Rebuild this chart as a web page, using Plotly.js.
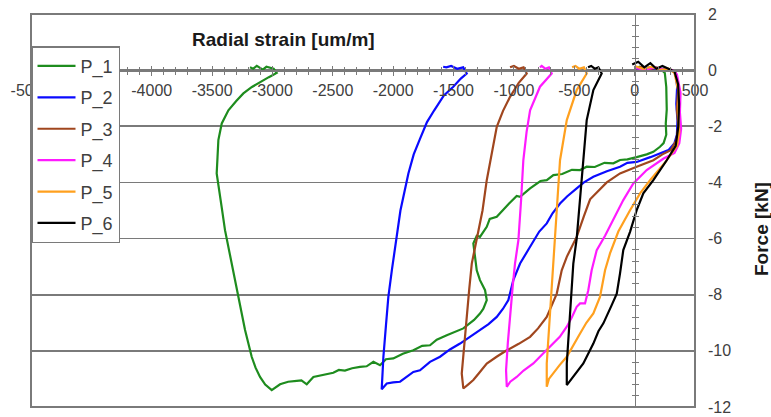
<!DOCTYPE html>
<html>
<head>
<meta charset="utf-8">
<script src="https://cdn.plot.ly/plotly-3.0.1.min.js"></script>
<style>html,body{margin:0;padding:0;background:#fff;}#chart{width:771px;height:417px;}</style>
</head>
<body>
<div id="chart"></div>
<script>
// ---- data ----
const seriesNames = ["P_1", "P_2", "P_3", "P_4", "P_5", "P_6"];

const p1x = [0, 40, 80, 120, 160, 200, 230, 250, 262, 266, 258, 262, 240, 210, 155, 100, 17, -60, -121, -176, -250, -330, -397, -452, -520, -600, -673, -728, -780, -866, -949, -977, -1040, -1088, -1142, -1200, -1225, -1281, -1308, -1336, -1322, -1308, -1281, -1239, -1225, -1253, -1281, -1330, -1419, -1480, -1556, -1639, -1695, -1760, -1833, -1920, -1999, -2060, -2109, -2164, -2220, -2275, -2340, -2400, -2450, -2496, -2580, -2661, -2716, -2760, -2799, -2870, -2937, -3006, -3060, -3103, -3140, -3172, -3227, -3282, -3337, -3393, -3420, -3462, -3455, -3448, -3420, -3365, -3300, -3241, -3170, -3103, -3030, -2965, -2990, -3050, -3080, -3130, -3160, -3186];
const p1y = [0.05, 0.12, 0.02, 0.08, 0.0, 0.05, -0.02, -0.1, -0.6, -1.4, -1.9, -2.3, -2.6, -2.73, -2.91, -3.0, -3.1, -3.18, -3.2, -3.32, -3.3, -3.45, -3.44, -3.56, -3.55, -3.7, -3.74, -3.92, -3.95, -4.21, -4.51, -4.48, -4.75, -4.99, -5.22, -5.3, -5.58, -5.94, -5.9, -6.17, -6.65, -7.13, -7.48, -7.84, -8.19, -8.5, -8.67, -8.9, -9.2, -9.3, -9.44, -9.6, -9.8, -9.82, -9.98, -10.1, -10.27, -10.3, -10.51, -10.39, -10.55, -10.57, -10.62, -10.7, -10.68, -10.78, -10.85, -10.93, -11.19, -11.05, -11.07, -11.1, -11.19, -11.4, -11.2, -10.93, -10.6, -10.21, -9.26, -8.08, -6.89, -5.7, -4.9, -3.68, -3.1, -2.49, -1.9, -1.43, -1.1, -0.83, -0.6, -0.42, -0.25, -0.1, 0.05, 0.12, 0.02, 0.15, 0.05, 0.1];

const p2x = [0, 60, 120, 180, 240, 300, 340, 352, 345, 355, 350, 330, 280, 210, 130, 17, -60, -121, -230, -342, -420, -480, -560, -618, -680, -728, -790, -866, -949, -1005, -1046, -1090, -1142, -1210, -1281, -1360, -1446, -1530, -1612, -1695, -1778, -1833, -1900, -1943, -2000, -2053, -2095, -2081, -2060, -2040, -2010, -1985, -1940, -1874, -1830, -1778, -1720, -1660, -1580, -1502, -1440, -1391, -1420, -1470, -1520, -1560, -1586];
const p2y = [0.1, 0.02, 0.1, 0.0, 0.05, 0.0, -0.1, -0.6, -1.2, -1.8, -2.3, -2.6, -2.85, -2.97, -3.1, -3.27, -3.3, -3.44, -3.6, -3.8, -4.0, -4.21, -4.5, -4.75, -5.1, -5.46, -5.75, -6.29, -6.89, -7.48, -8.19, -8.5, -8.79, -9.05, -9.26, -9.5, -9.74, -9.95, -10.21, -10.39, -10.69, -10.75, -10.95, -11.1, -11.12, -11.16, -11.37, -10.21, -9.1, -8.08, -7.1, -6.29, -5.0, -3.68, -3.0, -2.45, -1.85, -1.43, -0.9, -0.59, -0.3, -0.12, 0.1, 0.05, 0.15, 0.1, 0.12];

const p3x = [0, 60, 120, 180, 240, 300, 340, 360, 350, 362, 345, 300, 230, 155, 17, -121, -231, -300, -369, -420, -480, -562, -604, -645, -690, -728, -800, -866, -960, -1059, -1140, -1225, -1290, -1336, -1380, -1419, -1432, -1410, -1391, -1370, -1349, -1308, -1260, -1225, -1180, -1142, -1090, -1032, -960, -894, -920, -960, -1000, -1032];
const p3y = [0.05, 0.12, 0.02, 0.1, 0.0, 0.02, -0.1, -0.7, -1.4, -2.0, -2.5, -2.85, -3.0, -3.21, -3.44, -3.68, -4.0, -4.3, -4.6, -5.2, -5.94, -6.65, -7.13, -7.96, -8.4, -8.79, -9.2, -9.5, -9.75, -9.98, -10.2, -10.45, -10.8, -11.04, -11.2, -11.34, -10.81, -9.7, -8.67, -7.8, -6.89, -6.06, -5.0, -3.92, -2.9, -2.02, -1.45, -0.95, -0.45, -0.12, 0.1, 0.05, 0.15, 0.1];

const p4x = [0, 80, 160, 240, 310, 350, 380, 375, 385, 370, 330, 240, 100, -11, -94, -176, -245, -314, -356, -384, -411, -452, -480, -520, -562, -620, -673, -728, -760, -839, -920, -977, -1030, -1059, -1065, -1050, -1032, -1010, -991, -963, -940, -922, -895, -866, -784, -687, -710, -740, -770, -784];
const p4y = [0.1, 0.0, 0.1, 0.02, 0.0, -0.15, -0.8, -1.5, -2.1, -2.6, -2.95, -3.15, -3.56, -4.04, -4.63, -5.34, -5.9, -6.41, -7.13, -7.84, -8.31, -8.31, -8.43, -8.8, -9.14, -9.5, -9.74, -9.98, -10.1, -10.45, -10.7, -10.93, -11.1, -11.28, -10.69, -9.7, -8.67, -7.7, -6.89, -6.06, -4.6, -3.21, -2.2, -1.43, -0.59, -0.12, 0.1, 0.05, 0.15, 0.1];

const p5x = [0, 70, 140, 210, 280, 330, 365, 360, 370, 350, 250, 128, 45, -38, -135, -204, -245, -287, -342, -400, -452, -510, -562, -620, -673, -710, -728, -728, -701, -673, -659, -630, -618, -562, -480, -397, -420, -460, -490, -518];
const p5y = [0.15, 0.05, 0.12, 0.0, 0.05, -0.1, -0.8, -1.6, -2.2, -2.7, -3.3, -3.92, -4.39, -4.99, -5.75, -6.53, -7.13, -8.08, -8.67, -9.0, -9.38, -9.8, -10.21, -10.5, -10.81, -11.0, -11.28, -10.45, -8.67, -6.89, -5.9, -4.0, -3.21, -1.78, -0.71, -0.12, 0.1, 0.05, 0.15, 0.1];

const p6x = [-20, 30, 80, 130, 180, 230, 280, 330, 360, 368, 362, 340, 266, 155, 72, 17, -38, -94, -121, -148, -190, -259, -300, -342, -425, -480, -535, -562, -562, -535, -508, -480, -425, -397, -342, -273, -300, -330, -360, -386];
const p6y = [0.2, 0.3, 0.1, 0.25, 0.05, 0.15, 0.05, -0.05, -0.5, -1.2, -2.0, -2.7, -3.21, -3.92, -4.39, -4.99, -5.76, -6.41, -7.24, -7.96, -8.37, -9.02, -9.3, -9.74, -10.45, -10.75, -11.04, -11.22, -10.45, -8.67, -6.89, -6.0, -3.21, -1.78, -0.71, -0.12, 0.1, 0.05, 0.15, 0.1];

const seriesX = [p1x, p2x, p3x, p4x, p5x, p6x];
const seriesY = [p1y, p2y, p3y, p4y, p5y, p6y];
const seriesColors = ["#1e8c1e", "#0a0aff", "#a0461e", "#ff1aff", "#ffa01e", "#000000"];

const xTickVals = [-5000, -4500, -4000, -3500, -3000, -2500, -2000, -1500, -1000, -500, 0, 500];
const xTickText = ["-5000", "", "-4000", "-3500", "-3000", "-2500", "-2000", "-1500", "-1000", "-500", "0", "500"];
const yTickVals = [2, 0, -2, -4, -6, -8, -10, -12];

// ---- chart ----
const FONT = "Arial, 'Liberation Sans', sans-serif";
const gray = "#7a7a7a";
const traces = seriesNames.map((n, i) => ({
  type: "scatter", mode: "lines", name: n, legendgroup: n,
  x: seriesX[i], y: seriesY[i],
  line: {color: seriesColors[i], width: 2.2},
  xaxis: "x", yaxis: "y"
}));
// empty helper traces so that the overlay axes are drawn (no marks)
traces.push({type: "scatter", mode: "lines", x: [], y: [], xaxis: "x", yaxis: "y2", showlegend: false, hoverinfo: "skip"});
traces.push({type: "scatter", mode: "lines", x: [], y: [], xaxis: "x", yaxis: "y3", showlegend: false, hoverinfo: "skip"});
traces.push({type: "scatter", mode: "lines", x: [], y: [], xaxis: "x2", yaxis: "y", showlegend: false, hoverinfo: "skip"});

const xPos = 12 / 14;       // paper position of y = 0
const yPos = 5000 / 5500;   // paper position of x = 0

const layout = {
  width: 771, height: 417,
  margin: {l: 31, r: 76, t: 14, b: 10, pad: 0},
  paper_bgcolor: "#ffffff", plot_bgcolor: "#ffffff",
  font: {family: FONT, color: "#404040"},
  showlegend: true,
  legend: {x: 0, xanchor: "left", y: 0.918, yanchor: "top", bgcolor: "#ffffff",
           bordercolor: gray, borderwidth: 1.5, font: {size: 18, color: "#404040", family: FONT},
           tracegroupgap: 5, itemwidth: 38, entrywidth: 90},
  xaxis: {range: [-5000, 500], anchor: "free", position: xPos, showline: true, linecolor: gray, linewidth: 1.5,
          tickmode: "array", tickvals: xTickVals, ticktext: xTickText,
          ticks: "outside", ticklen: 4, tickcolor: gray, tickwidth: 1,
          minor: {dtick: 100, tick0: 0, ticks: "outside", ticklen: 3, tickcolor: gray, showgrid: false},
          showgrid: false, zeroline: false, tickfont: {size: 16, color: "#404040", family: FONT},
          ticklabelstandoff: 1},
  xaxis2: {range: [-5000, 500], overlaying: "x", anchor: "free", position: xPos, showline: false,
           dtick: 500, tick0: 0, ticks: "inside", ticklen: 4, tickcolor: gray,
           minor: {dtick: 100, tick0: 0, ticks: "inside", ticklen: 3, tickcolor: gray, showgrid: false},
           showticklabels: false, showgrid: false, zeroline: false},
  yaxis: {range: [-12, 2], anchor: "free", position: yPos, showline: true, linecolor: gray, linewidth: 1.5,
          dtick: 2, tick0: 0, ticks: "outside", ticklen: 4, tickcolor: gray,
          minor: {dtick: 0.4, tick0: 0, ticks: "outside", ticklen: 3, tickcolor: gray, showgrid: false},
          showgrid: true, gridcolor: "#7a7a7a", gridwidth: 1.6, showticklabels: false, zeroline: false},
  yaxis2: {range: [-12, 2], overlaying: "y", anchor: "free", position: yPos, showline: false,
           dtick: 2, tick0: 0, ticks: "inside", ticklen: 4, tickcolor: gray,
           minor: {dtick: 0.4, tick0: 0, ticks: "inside", ticklen: 3, tickcolor: gray, showgrid: false},
           showticklabels: false, showgrid: false, zeroline: false},
  yaxis3: {range: [-12, 2], overlaying: "y", side: "right", anchor: "free", position: 1, showline: false,
           tickmode: "array", tickvals: yTickVals, ticktext: yTickVals.map(String), ticks: "",
           showgrid: false, zeroline: false, tickfont: {size: 16, color: "#404040", family: FONT},
           ticklabelstandoff: 12},
  shapes: [{type: "rect", xref: "paper", yref: "paper", x0: 0, x1: 1, y0: 0, y1: 1,
            line: {color: "#7a7a7a", width: 2}, layer: "above"}],
  annotations: [
    {text: "<b>Radial strain [um/m]</b>", xref: "paper", yref: "paper", x: 0.381, y: 0.934,
     xanchor: "center", yanchor: "middle", showarrow: false, font: {size: 19, color: "#1a1a1a", family: FONT}},
    {text: "<b>Force [kN]</b>", xref: "paper", yref: "paper", x: 1.101, y: 0.453, textangle: -90,
     xanchor: "center", yanchor: "middle", showarrow: false, font: {size: 19, color: "#1a1a1a", family: FONT}}
  ]
};

Plotly.newPlot("chart", traces, layout, {displayModeBar: false, staticPlot: true});
</script>
</body>
</html>
